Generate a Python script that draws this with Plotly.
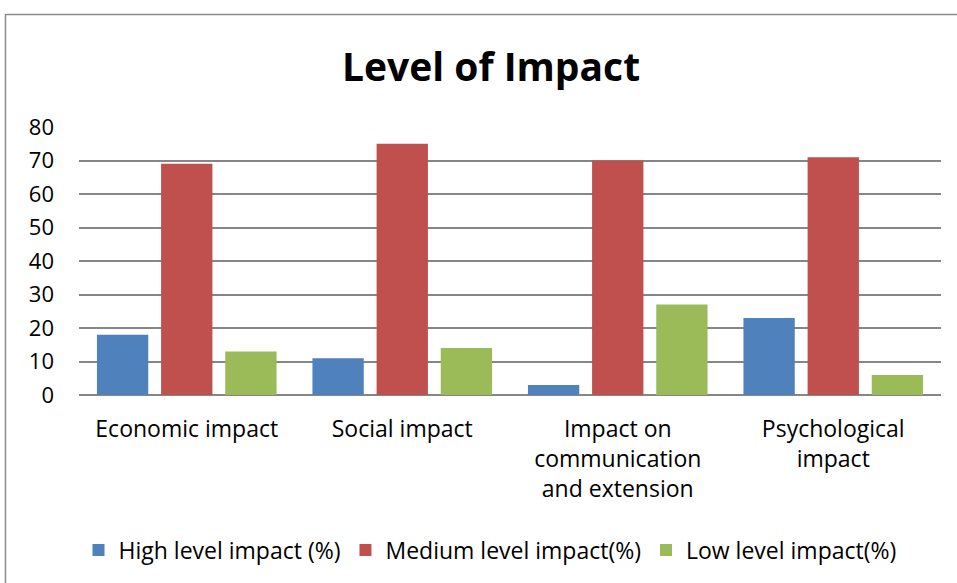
import plotly.graph_objects as go

# Impact categories and the share of respondents at each level (%)
categories = [
    "Economic impact",
    "Social impact",
    "Impact on<br>communication<br>and extension",
    "Psychological<br>impact",
]
high_level = [18, 11, 3, 23]
medium_level = [69, 75, 70, 71]
low_level = [13, 14, 27, 6]

series_names = ["High level impact (%)", "Medium level impact(%)", "Low level impact(%)"]
series_colors = ["#4F81BD", "#C0504D", "#9BBB59"]
y_ticks = [0, 10, 20, 30, 40, 50, 60, 70, 80]

FONT = "Open Sans"
W, H = 957, 583
L, R, T, B = 79, 16, 127, 188

fig = go.Figure()
for name, vals, color in zip(series_names, [high_level, medium_level, low_level], series_colors):
    fig.add_trace(go.Bar(
        x=categories, y=vals, name=name,
        marker=dict(color=color, line=dict(width=0)),
    ))

plot_w = W - L - R
plot_h = H - T - B

# Chart-area frame
fig.add_shape(
    type="rect", xref="paper", yref="paper",
    x0=(5.5 - L) / plot_w, x1=(W + 5 - L) / plot_w,
    y0=-(H + 5 - T - plot_h) / plot_h, y1=1 + (T - 14.5) / plot_h,
    line=dict(color="#8C8C8C", width=1.5), fillcolor="rgba(0,0,0,0)", layer="below",
)

fig.update_layout(
    width=W, height=H,
    margin=dict(l=L, r=R, t=T, b=B, autoexpand=False),
    paper_bgcolor="white", plot_bgcolor="white",
    font=dict(family=FONT, color="black"),
    barmode="group", bargap=0.107, bargroupgap=0.2,
    title=dict(
        text="<b>Level of Impact</b>", xref="container", yref="container",
        x=491 / W, xanchor="center", y=1 - 67 / H, yanchor="middle",
        font=dict(family=FONT, size=39, color="black"),
    ),
    showlegend=True,
    legend=dict(
        orientation="h", xref="container", yref="container",
        x=490 / W, xanchor="center", y=1 - 550 / H, yanchor="middle",
        font=dict(family=FONT, size=23, color="black"),
        itemwidth=30, itemsizing="constant", traceorder="normal",
        bgcolor="rgba(0,0,0,0)",
    ),
    xaxis=dict(
        showgrid=False, showline=False, zeroline=False,
        tickfont=dict(family=FONT, size=23, color="black"),
        ticks="", ticklabelstandoff=18,
    ),
    yaxis=dict(
        range=[0, 80], tickvals=y_ticks, ticktext=[str(v) for v in y_ticks],
        showgrid=True, gridcolor="#868686", gridwidth=1.6,
        zeroline=True, zerolinecolor="#868686", zerolinewidth=1.6,
        showline=False, ticks="",
        tickfont=dict(family=FONT, size=22, color="black"),
        ticklabelstandoff=24,
    ),
)

fig.write_html("out.html")
